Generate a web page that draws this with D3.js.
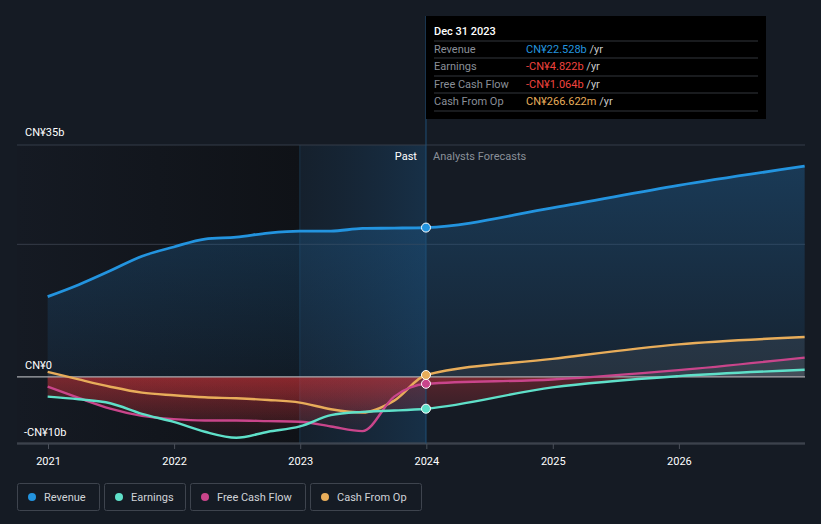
<!DOCTYPE html>
<html>
<head>
<meta charset="utf-8">
<script src="https://cdn.jsdelivr.net/npm/d3@7"></script>
<style>
  body { margin: 0; background: #151b24; font-family: Roboto, "Noto Sans", sans-serif; }
  svg text { font-family: Roboto, "Noto Sans", sans-serif; }
</style>
</head>
<body>
<div id="chart"></div>
<script>
// values in CN¥ billions
const pastDates = ["2020-12-31","2021-03-31","2021-06-30","2021-09-30","2021-12-31","2022-03-31","2022-06-30","2022-09-30","2022-12-31","2023-03-31","2023-06-30","2023-09-30","2023-12-31"];
const forecastDates = ["2023-12-31","2024-12-31","2025-12-31","2026-12-31"];

const revenuePast = [12.1, 13.9, 16.0, 18.2, 19.6, 20.8, 21.1, 21.7, 22.0, 22.0, 22.4, 22.45, 22.53];
const revenueFc = [22.53, 25.5, 28.9, 31.8];
const earningsPast = [-3.0, -3.4, -4.0, -5.6, -6.8, -8.3, -9.2, -8.3, -7.5, -5.8, -5.3, -5.1, -4.82];
const earningsFc = [-4.82, -1.6, 0.1, 1.06];
const fcfPast = [-1.5, -3.2, -4.8, -5.9, -6.4, -6.6, -6.6, -6.7, -6.8, -7.5, -8.2, -3.0, -1.06];
const fcfFc = [-1.06, -0.4, 1.0, 2.9];
const cfoPast = [0.75, -0.4, -1.5, -2.4, -2.8, -3.1, -3.25, -3.5, -3.9, -4.9, -5.4, -3.6, 0.27];
const cfoFc = [0.27, 2.7, 4.9, 6.0];

const yTicks = [35, 20, 0, -10];
const yLabels = ["CN¥35b", "CN¥0", "-CN¥10b"];
const xYears = [2021, 2022, 2023, 2024, 2025, 2026];

const tipRows = [
  { label: "Revenue", value: "CN¥22.528b", color: "#2394df" },
  { label: "Earnings", value: "-CN¥4.822b", color: "#f0433e" },
  { label: "Free Cash Flow", value: "-CN¥1.064b", color: "#f0433e" },
  { label: "Cash From Op", value: "CN¥266.622m", color: "#e8ad5a" }
];

var width = 821, height = 524;
var parse = d3.timeParse("%Y-%m-%d");

var svg = d3.select("#chart").append("svg")
  .attr("width", width).attr("height", height);

svg.append("rect").attr("width", width).attr("height", height).attr("fill", "#151b24");

var x = d3.scaleTime()
  .domain([new Date(2021, 0, 1), new Date(2027, 0, 1)])
  .range([48, 805]);
var y = d3.scaleLinear().domain([-10, 35]).range([443, 145]);

var plotLeft = 17, plotRight = 805;
var nowX = x(parse("2023-12-31"));
var pastStart = x(parse("2022-12-31"));

var defs = svg.append("defs");
var g1 = defs.append("linearGradient").attr("id", "darkLeft").attr("x1", 0).attr("x2", 1).attr("y1", 0).attr("y2", 0);
g1.append("stop").attr("offset", 0).attr("stop-color", "#151a23");
g1.append("stop").attr("offset", 1).attr("stop-color", "#0f1217");
var g2 = defs.append("linearGradient").attr("id", "pastBlue").attr("x1", 0).attr("x2", 1).attr("y1", 0).attr("y2", 0);
g2.append("stop").attr("offset", 0).attr("stop-color", "#163550").attr("stop-opacity", 0.2);
g2.append("stop").attr("offset", 1).attr("stop-color", "#1a4d78").attr("stop-opacity", 0.42);
var g3 = defs.append("linearGradient").attr("id", "revFill").attr("x1", 0).attr("x2", 0).attr("y1", 0).attr("y2", 1);
g3.append("stop").attr("offset", 0).attr("stop-color", "#1f5f93").attr("stop-opacity", 0.45);
g3.append("stop").attr("offset", 1).attr("stop-color", "#1f5f93").attr("stop-opacity", 0.12);
var g4 = defs.append("linearGradient").attr("id", "negFill").attr("x1", 0).attr("x2", 0).attr("y1", 0).attr("y2", 1);
g4.append("stop").attr("offset", 0).attr("stop-color", "#d0343a").attr("stop-opacity", 0.38);
g4.append("stop").attr("offset", 1).attr("stop-color", "#d0343a").attr("stop-opacity", 0.05);

// background panels
svg.append("rect").attr("x", plotLeft).attr("y", 145).attr("width", pastStart - plotLeft).attr("height", 299)
  .attr("fill", "url(#darkLeft)");
svg.append("rect").attr("x", pastStart).attr("y", 145).attr("width", nowX - pastStart).attr("height", 299)
  .attr("fill", "url(#pastBlue)");
svg.append("line").attr("x1", pastStart).attr("x2", pastStart).attr("y1", 145).attr("y2", 444)
  .attr("stroke", "#1a3448").attr("stroke-width", 1);

// grid
svg.selectAll(".grid").data(yTicks.filter(d => d != 0)).enter().append("line")
  .attr("x1", plotLeft).attr("x2", plotRight)
  .attr("y1", d => y(d)).attr("y2", d => y(d))
  .attr("stroke", d => d == -10 ? "#4a505a" : "#353c48").attr("stroke-width", 1);

function series(dates, vals) {
  return dates.map((d, i) => ({ date: parse(d), v: vals[i] }));
}

var all = [
  { name: "Revenue", color: "#2394df", past: series(pastDates, revenuePast), fc: series(forecastDates, revenueFc) },
  { name: "Earnings", color: "#5fe0c9", past: series(pastDates, earningsPast), fc: series(forecastDates, earningsFc) },
  { name: "Free Cash Flow", color: "#c9458b", past: series(pastDates, fcfPast), fc: series(forecastDates, fcfFc) },
  { name: "Cash From Op", color: "#e8ad5a", past: series(pastDates, cfoPast), fc: series(forecastDates, cfoFc) }
];

var line = d3.line().x(d => x(d.date)).y(d => y(d.v)).curve(d3.curveMonotoneX);
var area = d3.area().x(d => x(d.date)).y0(y(0)).y1(d => y(d.v)).curve(d3.curveMonotoneX);

// clip paths for positive / negative halves
defs.append("clipPath").attr("id", "above").append("rect")
  .attr("x", 0).attr("y", 0).attr("width", width).attr("height", y(0));
defs.append("clipPath").attr("id", "below").append("rect")
  .attr("x", 0).attr("y", y(0)).attr("width", width).attr("height", height - y(0));

// revenue area
var rev = all[0];
svg.append("path").datum(rev.past.concat(rev.fc.slice(1))).attr("d", area)
  .attr("fill", "url(#revFill)");

// other areas
all.slice(1).forEach(s => {
  var pts = s.past.concat(s.fc.slice(1));
  svg.append("path").datum(pts).attr("d", area)
    .attr("clip-path", "url(#below)").attr("fill", "url(#negFill)");
  svg.append("path").datum(pts).attr("d", area)
    .attr("clip-path", "url(#above)").attr("fill", "#ffffff").attr("fill-opacity", 0.07);
});

// zero line
svg.append("line").attr("x1", plotLeft).attr("x2", plotRight)
  .attr("y1", y(0)).attr("y2", y(0)).attr("stroke", "#a9abb0").attr("stroke-width", 1.2);

// now line
svg.append("line").attr("x1", nowX).attr("x2", nowX).attr("y1", 16).attr("y2", 444)
  .attr("stroke", "#1f4f75").attr("stroke-width", 1);

// lines
all.slice().reverse().forEach(s => {
  svg.append("path").datum(s.past.concat(s.fc.slice(1))).attr("d", line)
    .attr("fill", "none").attr("stroke", s.color)
    .attr("stroke-width", s.name == "Revenue" ? 2.8 : 2.4);
});

// dots at current date
all.forEach(s => {
  var last = s.past[s.past.length - 1];
  svg.append("circle").attr("cx", x(last.date)).attr("cy", y(last.v)).attr("r", 4.5)
    .attr("fill", s.color).attr("stroke", "#ffffff").attr("stroke-width", 1);
});

// y labels
svg.selectAll(".ylab").data(yLabels).enter().append("text")
  .attr("x", (d, i) => i == 2 ? 24 : 25)
  .attr("y", (d, i) => [136, 369, 436][i])
  .attr("fill", "#ffffff").attr("font-size", 11).text(d => d);

// x axis
svg.append("line").attr("x1", plotLeft).attr("x2", plotRight).attr("y1", 444).attr("y2", 444)
  .attr("stroke", "#4a505a");
var xa = svg.append("g").attr("transform", "translate(0,444)")
  .call(d3.axisBottom(x).tickValues(xYears.map(yr => new Date(yr, 0, 1)))
    .tickFormat(d3.timeFormat("%Y")).tickSize(5).tickPadding(8));
xa.select(".domain").remove();
xa.selectAll("line").attr("stroke", "#4a505a");
xa.selectAll("text").attr("fill", "#ffffff").attr("font-size", 11);

// past / forecast labels
svg.append("text").attr("x", nowX - 9).attr("y", 160).attr("text-anchor", "end")
  .attr("fill", "#ffffff").attr("font-size", 11).text("Past");
svg.append("text").attr("x", nowX + 7).attr("y", 160)
  .attr("fill", "#8a9099").attr("font-size", 11).text("Analysts Forecasts");

// tooltip
var tip = svg.append("g");
tip.append("rect").attr("x", 426).attr("y", 16).attr("width", 340).attr("height", 103).attr("fill", "#000000");
tip.append("text").attr("x", 434).attr("y", 35).attr("fill", "#ffffff").attr("font-size", 11)
  .attr("font-weight", 500).text("Dec 31 2023");
[41, 58, 76, 93, 111].forEach(yy => {
  tip.append("line").attr("x1", 434).attr("x2", 758).attr("y1", yy).attr("y2", yy)
    .attr("stroke", "#33363c");
});
tipRows.forEach((r, i) => {
  var yy = [53, 70, 88, 105][i];
  tip.append("text").attr("x", 434).attr("y", yy).attr("fill", "#8a8f98").attr("font-size", 11).text(r.label);
  var t = tip.append("text").attr("x", 526).attr("y", yy).attr("font-size", 11);
  t.append("tspan").attr("fill", r.color).text(r.value);
  t.append("tspan").attr("fill", "#c8c8c8").text(" /yr");
});

// legend
var legX = [17, 104, 190, 310], legW = [82, 81, 115, 111];
all.forEach((s, i) => {
  var lg = svg.append("g").attr("transform", "translate(" + legX[i] + ",483)");
  lg.append("rect").attr("x", 0.5).attr("y", 0.5).attr("width", legW[i]).attr("height", 27).attr("rx", 2)
    .attr("fill", "none").attr("stroke", "#3e444e");
  lg.append("circle").attr("cx", 15).attr("cy", 14).attr("r", 4).attr("fill", s.color);
  lg.append("text").attr("x", 27).attr("y", 18).attr("fill", "#d0d3d8").attr("font-size", 11).text(s.name);
});
</script>
</body>
</html>
